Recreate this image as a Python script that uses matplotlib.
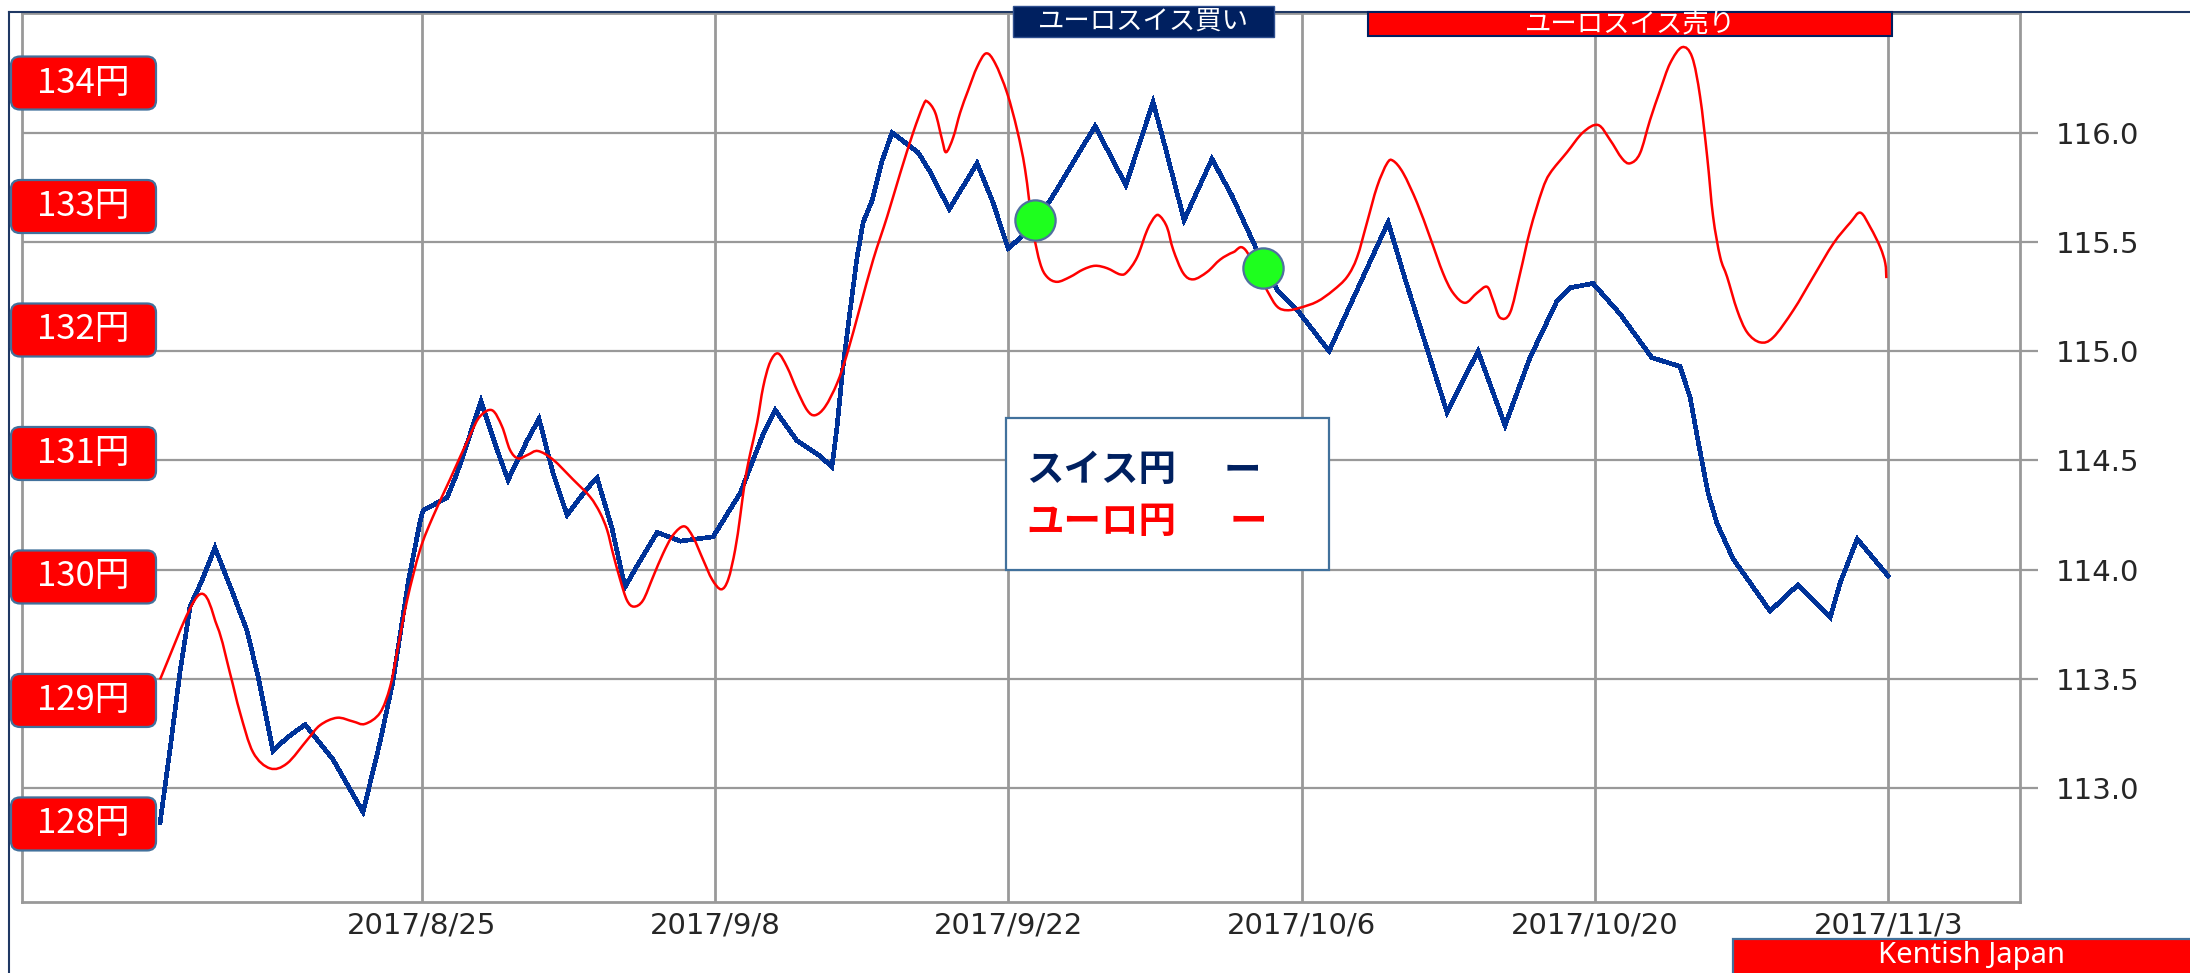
import numpy as np
import matplotlib
matplotlib.use("Agg")
import matplotlib.pyplot as plt
from matplotlib.patches import FancyBboxPatch, Rectangle, PathPatch
from matplotlib.lines import Line2D
from matplotlib.path import Path
from matplotlib.transforms import IdentityTransform

plt.rcParams['font.family'] = ['DejaVu Sans', 'Noto Sans CJK JP']
JP = ['Noto Sans CJK JP', 'DejaVu Sans']

# ---------------- data ----------------
# x values are days counted from 2017/8/25
date_ticks = [0, 14, 28, 42, 56, 70]
date_labels = ["2017/8/25", "2017/9/8", "2017/9/22", "2017/10/6", "2017/10/20", "2017/11/3"]

chf_ticks = [113.0, 113.5, 114.0, 114.5, 115.0, 115.5, 116.0]
eur_levels = [128, 129, 130, 131, 132, 133, 134]
eur_level_labels = ["128円", "129円", "130円", "131円", "132円", "133円", "134円"]

# スイス円 (CHF/JPY)
chf_days = [-12.49, -12.01, -11.54, -11.06, -10.49, -9.87, -9.01, -8.34, -7.81, -7.10,
            -6.43, -5.57, -4.23, -2.80, -1.99, -1.37, -0.65, -0.08, 0.06, 1.21,
            1.68, 2.21, 2.83, 3.59, 4.12, 5.03, 5.60, 6.27, 6.94, 7.89,
            8.37, 9.08, 9.70, 10.42, 11.24, 12.34, 13.91, 15.20, 16.30, 16.87,
            17.91, 19.01, 19.58, 19.82, 20.11, 20.44, 20.78, 21.07, 21.50, 21.97,
            22.45, 23.69, 24.27, 25.18, 26.51, 27.27, 27.99, 28.71, 30.00, 32.14,
            33.61, 34.91, 35.39, 36.39, 37.72, 38.68, 39.78, 40.83, 41.78, 43.31,
            46.13, 46.94, 48.94, 50.42, 51.71, 52.90, 54.19, 54.81, 55.91, 57.20,
            58.72, 60.06, 60.54, 60.92, 61.40, 61.83, 62.59, 63.55, 64.36, 65.69,
            67.23, 67.71, 68.52, 70.00]
chf_vals = [112.84, 113.18, 113.53, 113.83, 113.95, 114.10, 113.89, 113.72, 113.51, 113.17,
            113.23, 113.29, 113.13, 112.89, 113.21, 113.49, 113.94, 114.22, 114.27, 114.33,
            114.44, 114.59, 114.77, 114.55, 114.41, 114.59, 114.69, 114.44, 114.25, 114.37,
            114.42, 114.19, 113.92, 114.04, 114.17, 114.13, 114.15, 114.35, 114.62, 114.73,
            114.59, 114.52, 114.47, 114.65, 114.93, 115.18, 115.43, 115.59, 115.69, 115.87,
            116.00, 115.91, 115.82, 115.65, 115.86, 115.68, 115.47, 115.53, 115.69, 116.03,
            115.76, 116.14, 115.97, 115.60, 115.88, 115.71, 115.48, 115.28, 115.19, 115.00,
            115.59, 115.33, 114.72, 115.00, 114.66, 114.97, 115.23, 115.29, 115.31, 115.17,
            114.97, 114.93, 114.79, 114.59, 114.35, 114.21, 114.05, 113.92, 113.81, 113.93,
            113.78, 113.94, 114.14, 113.97]

# ユーロ円 (EUR/JPY)
eur_days = [-12.49, -10.67, -9.76, -9.15, -8.67, -8.05, -7.24, -6.43, -5.47, -4.85,
            -4.04, -3.28, -2.71, -1.99, -1.51, -1.18, -0.70, -0.08, 0.54, 1.35,
            2.31, 2.78, 3.36, 3.83, 4.21, 4.60, 5.07, 5.55, 6.27, 7.22,
            8.03, 8.51, 8.85, 9.13, 9.47, 9.80, 10.13, 10.56, 11.04, 11.52,
            12.00, 12.53, 12.96, 13.43, 13.86, 14.29, 14.63, 14.96, 15.20, 15.44,
            15.68, 16.01, 16.30, 16.63, 17.01, 17.44, 17.92, 18.40, 18.78, 19.26,
            19.83, 20.31, 20.93, 21.55, 22.22, 22.84, 23.46, 23.94, 24.13, 24.51,
            24.84, 25.03, 25.37, 25.70, 26.08, 26.51, 26.94, 27.37, 27.94, 28.42,
            28.80, 29.18, 29.52, 29.85, 30.33, 30.95, 31.57, 32.14, 32.72, 33.34,
            33.67, 34.15, 34.63, 35.01, 35.25, 35.58, 35.87, 36.35, 36.83, 37.49,
            38.11, 38.74, 39.31, 40.35, 40.83, 41.31, 41.92, 42.74, 43.50, 44.17,
            44.65, 45.12, 45.60, 46.08, 46.37, 46.85, 47.51, 48.13, 48.75, 49.23,
            49.80, 50.37, 50.85, 51.14, 51.47, 51.95, 52.43, 52.91, 53.48, 53.86,
            54.67, 55.43, 56.15, 56.72, 57.29, 57.68, 58.15, 58.63, 59.11, 59.59,
            60.16, 60.64, 61.02, 61.36, 61.64, 61.98, 62.31, 62.79, 63.27, 63.89,
            64.51, 65.47, 66.42, 67.38, 68.19, 68.67, 69.15, 69.62, 69.86, 69.91]
eur_vals = [129.17, 129.85, 129.60, 129.22, 128.90, 128.58, 128.45, 128.49, 128.68, 128.80,
            128.86, 128.83, 128.81, 128.90, 129.11, 129.39, 129.81, 130.22, 130.49, 130.79,
            131.15, 131.30, 131.35, 131.22, 131.03, 130.96, 130.99, 131.02, 130.95, 130.79,
            130.65, 130.52, 130.38, 130.19, 129.98, 129.81, 129.76, 129.81, 130.00, 130.19,
            130.34, 130.41, 130.32, 130.14, 129.98, 129.90, 129.98, 130.22, 130.49, 130.79,
            131.00, 131.25, 131.54, 131.74, 131.81, 131.70, 131.51, 131.35, 131.31, 131.38,
            131.57, 131.81, 132.19, 132.57, 132.92, 133.27, 133.60, 133.82, 133.85, 133.76,
            133.54, 133.44, 133.56, 133.76, 133.94, 134.13, 134.24, 134.16, 133.92, 133.62,
            133.30, 132.81, 132.54, 132.43, 132.39, 132.43, 132.49, 132.52, 132.50, 132.45,
            132.47, 132.59, 132.81, 132.92, 132.92, 132.83, 132.65, 132.46, 132.41, 132.47,
            132.57, 132.63, 132.65, 132.32, 132.19, 132.16, 132.18, 132.23, 132.32, 132.43,
            132.59, 132.87, 133.16, 133.35, 133.37, 133.27, 133.03, 132.75, 132.46, 132.30,
            132.22, 132.30, 132.35, 132.24, 132.10, 132.14, 132.46, 132.81, 133.13, 133.27,
            133.44, 133.60, 133.66, 133.54, 133.39, 133.35, 133.43, 133.70, 133.94, 134.16,
            134.29, 134.21, 133.89, 133.40, 132.92, 132.59, 132.43, 132.16, 131.98, 131.90,
            131.94, 132.16, 132.43, 132.70, 132.87, 132.95, 132.83, 132.67, 132.54, 132.42]

# signal points (on the スイス円 scale)
signal_days = [29.27, 40.16]
signal_chf = [115.60, 115.38]

legend_names = ["スイス円", "ユーロ円"]
banner_buy = "ユーロスイス買い"
banner_sell = "ユーロスイス売り"
credit = "Kentish Japan"

# ---------------- colours ----------------
BLUE = '#003399'
RED = '#FF0000'
NAVY = '#002060'
GRID = '#999999'
EDGE = '#41719C'

# ---------------- figure ----------------
W, H, DPI = 2190, 973, 100
fig = plt.figure(figsize=(W / DPI, H / DPI), dpi=DPI)
fig.patch.set_facecolor('white')


def fx(x):
    return x / W


def fy(y):
    return 1 - y / H


L, R, T, B = 22, 2020, 13, 902
ax = fig.add_axes([fx(L), fy(B), (R - L) / W, (B - T) / H])
axe = ax.twinx()

# CHF axis (main, labels on the right)
ax.plot(chf_days, chf_vals, color=BLUE, lw=2.6, antialiased=False,
        solid_joinstyle='miter', zorder=3)
ax.set_xlim(-19.08, 76.29)
ax.set_ylim(112.478, 116.548)
ax.set_yticks(chf_ticks)
ax.set_yticklabels([f"{v:.1f}" for v in chf_ticks])
ax.set_xticks(date_ticks)
ax.set_xticklabels(date_labels)
ax.grid(axis='y', color=GRID, lw=1.6)
ax.grid(axis='x', color=GRID, lw=2.0)
ax.set_axisbelow(True)
for s in ax.spines.values():
    s.set_color(GRID)
    s.set_linewidth(2.0)


# EUR axis (twin, smoothed line)
def smooth_path(xs, ys):
    P = np.column_stack([xs, ys]).astype(float)
    n = len(P)
    verts = [P[0]]
    codes = [Path.MOVETO]
    for i in range(n - 1):
        p0 = P[i - 1] if i > 0 else P[i]
        p1 = P[i]
        p2 = P[i + 1]
        p3 = P[i + 2] if i + 2 < n else P[i + 1]
        verts += [p1 + (p2 - p0) / 6.0, p2 - (p3 - p1) / 6.0, p2]
        codes += [Path.CURVE4] * 3
    return Path(verts, codes)


axe.add_patch(PathPatch(smooth_path(eur_days, eur_vals), fill=False,
                        edgecolor=RED, lw=1.8, zorder=3))
axe.plot(signal_days, signal_chf, 'o', transform=ax.transData, ms=29,
         mfc='#1EFF1E', mec='#4F6F9F', mew=1.6, zorder=6, clip_on=False)
axe.set_xlim(-19.08, 76.29)
axe.set_ylim(127.368, 134.567)
axe.set_yticks([])
for s in axe.spines.values():
    s.set_visible(False)

ax.yaxis.tick_right()
ax.tick_params(axis='y', which='both', right=True, left=False, labelright=True,
               labelleft=False, length=13, width=1.6, color=GRID, pad=13,
               labelsize=21, labelcolor='#262626')
ax.tick_params(axis='x', length=0, pad=7, labelsize=21, labelcolor='#262626')

ID = IdentityTransform()

# outer navy frame lines
fig.add_artist(Line2D([fx(9), fx(9)], [0, fy(12)], transform=fig.transFigure,
                      color='#1F3864', lw=1.5))
fig.add_artist(Line2D([fx(9), 1], [fy(12), fy(12)], transform=fig.transFigure,
                      color='#1F3864', lw=1.5))

# left yen boxes, positioned on the EUR scale
for v, lab in zip(eur_levels, eur_level_labels):
    yd = axe.transData.transform((0, v))[1]
    fig.add_artist(FancyBboxPatch((11, yd - 26.5), 145, 53,
                                  boxstyle="round,pad=0,rounding_size=9",
                                  fc=RED, ec=EDGE, lw=1.6, transform=ID, zorder=5))
    fig.text(83, yd, lab, transform=ID, color='white', fontsize=25,
             family=JP, ha='center', va='center', zorder=6)

# top banners
fig.add_artist(Rectangle((1013, H - 37), 261, 31, fc=NAVY, ec='#2F4F8F',
                         lw=1.0, transform=ID, zorder=5))
fig.text(1143, H - 21.5, banner_buy, transform=ID, color='white', fontsize=19,
         family=JP, ha='center', va='center', zorder=6)
fig.add_artist(Rectangle((1368, H - 36), 524, 24, fc=RED, ec=NAVY,
                         lw=1.5, transform=ID, zorder=5))
fig.text(1630, H - 24, banner_sell, transform=ID, color='white', fontsize=19,
         family=JP, ha='center', va='center', zorder=6)

# legend box
fig.add_artist(Rectangle((1006, H - 570), 323, 152, fc='white', ec=EDGE,
                         lw=1.6, transform=ID, zorder=5))
fig.text(1026, H - 470, legend_names[0], transform=ID, color=NAVY, fontsize=27,
         fontweight='bold', family=JP, ha='left', va='center', zorder=6)
fig.text(1224, H - 470, "ー", transform=ID, color=NAVY, fontsize=27,
         fontweight='bold', family=JP, ha='left', va='center', zorder=6)
fig.text(1026, H - 521, legend_names[1], transform=ID, color=RED, fontsize=27,
         fontweight='bold', family=JP, ha='left', va='center', zorder=6)
fig.text(1230, H - 521, "ー", transform=ID, color=RED, fontsize=27,
         fontweight='bold', family=JP, ha='left', va='center', zorder=6)

# credit box
fig.add_artist(Rectangle((1733, -10), 470, H - 939 + 10, fc=RED, ec=EDGE,
                         lw=1.6, transform=ID, zorder=5))
fig.text(1972, H - 963, credit, transform=ID, color='white', fontsize=21,
         family=['Noto Sans', 'DejaVu Sans'], ha='center', va='baseline', zorder=6)

fig.savefig("out.png", dpi=DPI, facecolor='white')
